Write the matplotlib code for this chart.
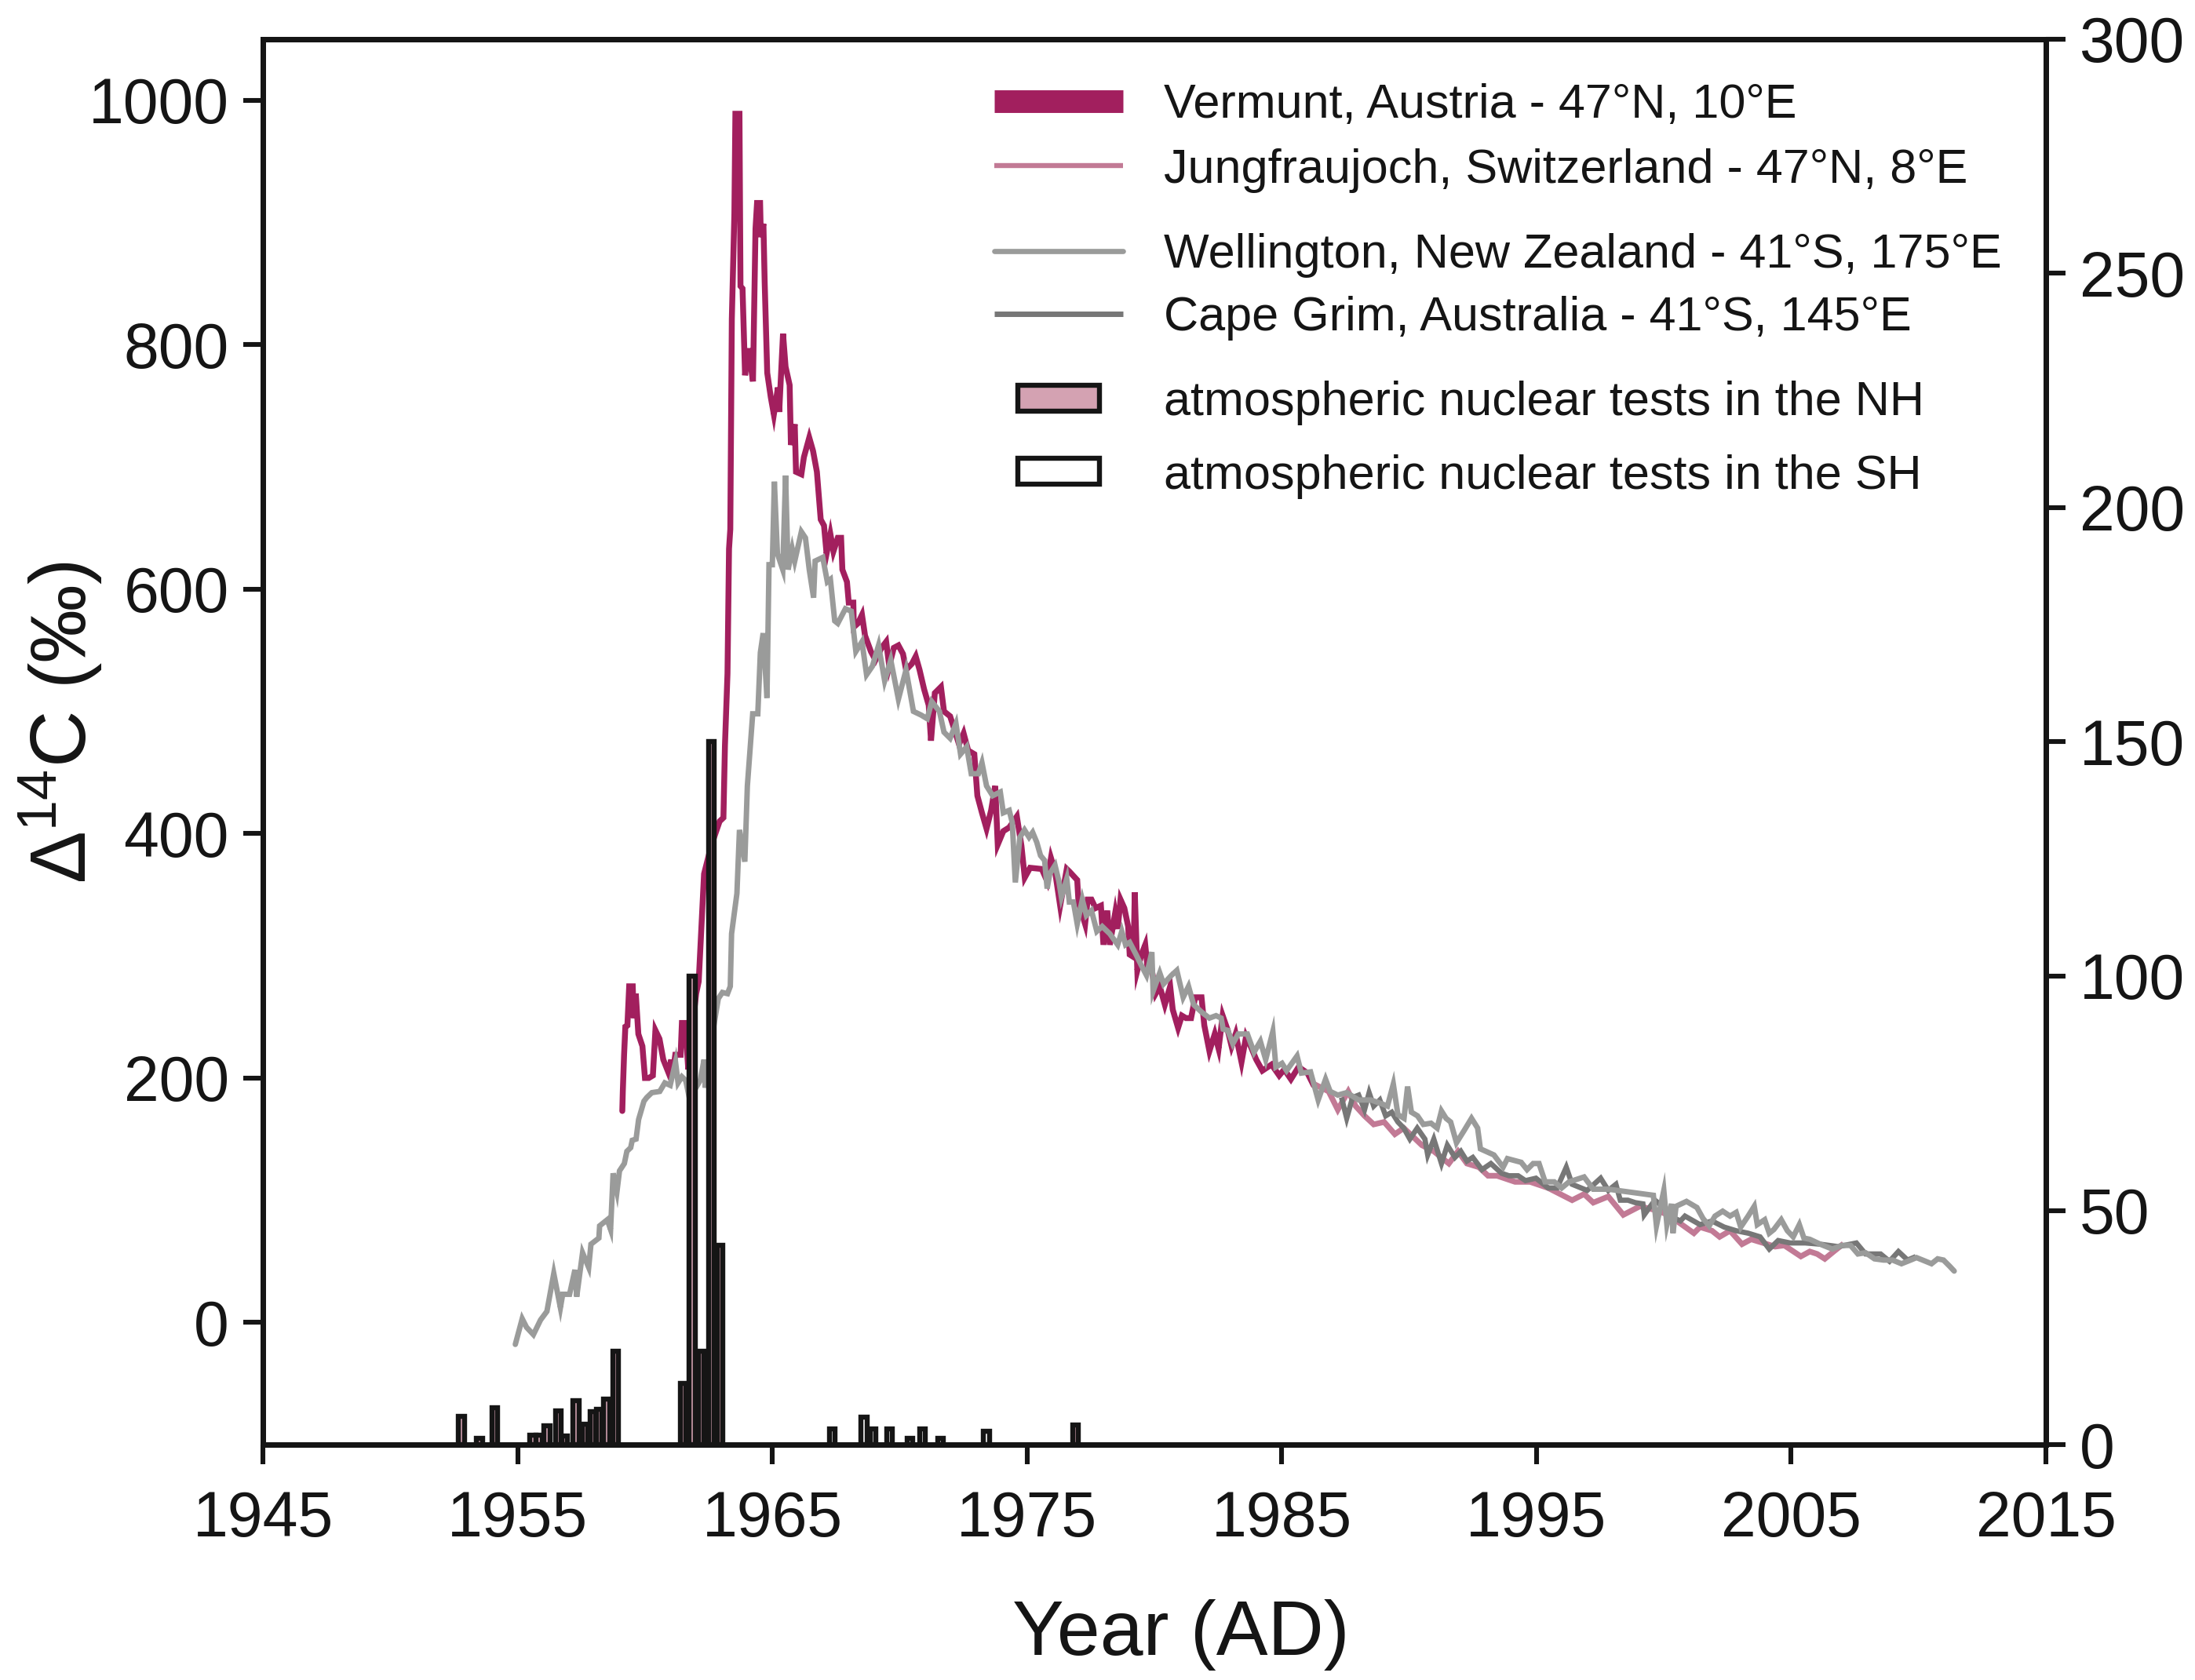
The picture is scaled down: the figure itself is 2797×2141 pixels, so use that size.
import matplotlib
matplotlib.use("Agg")
import matplotlib.pyplot as plt
from matplotlib.lines import Line2D
from matplotlib.patches import Patch

plt.rcParams['font.family'] = ['Liberation Sans', 'DejaVu Sans']
plt.rcParams['mathtext.fontset'] = 'custom'
plt.rcParams['mathtext.rm'] = 'Liberation Sans'
plt.rcParams['mathtext.default'] = 'regular'

# ---------------- data ----------------
vermunt_year = [1959.11, 1959.13, 1959.18, 1959.23, 1959.31, 1959.38, 1959.52, 1959.56, 1959.64, 1959.74,
                1959.90, 1960.00, 1960.15, 1960.31, 1960.41, 1960.57, 1960.72, 1960.93, 1961.03, 1961.08,
                1961.19, 1961.40, 1961.45, 1961.55, 1961.62, 1961.70, 1961.85, 1962.01, 1962.11, 1962.32,
                1962.60, 1962.93, 1963.08, 1963.14, 1963.24, 1963.30, 1963.35, 1963.41, 1963.51, 1963.55,
                1963.71, 1963.75, 1963.83, 1963.93, 1964.06, 1964.24, 1964.34, 1964.40, 1964.52, 1964.55,
                1964.65, 1964.70, 1964.80, 1964.94, 1965.06, 1965.22, 1965.27, 1965.42, 1965.52, 1965.68,
                1965.73, 1965.88, 1965.93, 1966.14, 1966.24, 1966.45, 1966.60, 1966.75, 1966.90, 1967.03,
                1967.13, 1967.28, 1967.40, 1967.57, 1967.70, 1967.75, 1967.93, 1968.00, 1968.18, 1968.20,
                1968.36, 1968.52, 1968.64, 1968.87, 1969.05, 1969.29, 1969.47, 1969.59, 1969.77, 1969.95,
                1970.13, 1970.25, 1970.48, 1970.63, 1970.78, 1970.96, 1971.14, 1971.23, 1971.38, 1971.62,
                1971.74, 1971.98, 1972.15, 1972.33, 1972.51, 1972.69, 1972.93, 1973.05, 1973.23, 1973.41,
                1973.59, 1973.75, 1973.85, 1974.07, 1974.30, 1974.60, 1974.78, 1974.91, 1975.12, 1975.58,
                1975.79, 1975.94, 1976.10, 1976.30, 1976.56, 1976.66, 1976.97, 1977.02, 1977.28, 1977.38,
                1977.53, 1977.69, 1977.90, 1978.00, 1978.15, 1978.25, 1978.46, 1978.56, 1978.67, 1978.82,
                1978.97, 1979.03, 1979.18, 1979.23, 1979.33, 1979.49, 1979.64, 1979.75, 1979.80, 1980.05,
                1980.21, 1980.41, 1980.62, 1980.72, 1980.93, 1981.08, 1981.24, 1981.44, 1981.60, 1981.85,
                1981.96, 1982.16, 1982.37, 1982.52, 1982.68, 1982.88, 1983.03, 1983.19, 1983.42, 1983.60,
                1983.80, 1984.00, 1984.24, 1984.60, 1984.90, 1985.10, 1985.36, 1985.66, 1986.01, 1986.25]
vermunt_d14c = [173, 189, 219, 242, 243, 275, 275, 249, 269, 236,
                226, 200, 200, 202, 239, 232, 215, 204, 215, 202,
                219, 219, 245, 245, 232, 207, 240, 269, 279, 367,
                390, 410, 413, 472, 531, 633, 649, 821, 907, 989,
                989, 848, 846, 775, 797, 770, 895, 916, 916, 888,
                899, 851, 777, 757, 743, 765, 745, 809, 782, 767,
                718, 735, 696, 694, 708, 724, 713, 696, 657, 652,
                629, 645, 631, 642, 642, 616, 606, 589, 589, 569,
                572, 579, 562, 549, 542, 552, 557, 537, 552, 554,
                547, 534, 539, 545, 534, 518, 505, 476, 515, 520,
                500, 496, 485, 473, 482, 468, 465, 431, 417, 404,
                419, 439, 391, 402, 405, 414, 390, 364, 372, 371,
                361, 380, 369, 341, 371, 369, 362, 344, 326, 346,
                346, 339, 341, 309, 337, 309, 335, 322, 346, 339,
                324, 301, 299, 352, 288, 301, 309, 286, 301, 269,
                275, 260, 275, 256, 241, 251, 249, 249, 266, 266,
                243, 222, 236, 224, 251, 239, 226, 236, 213, 234,
                225, 215, 206, 211, 202, 207, 199, 209, 204, 194]

jungfrau_year = [1986.37, 1986.84, 1987.20, 1987.61, 1987.90, 1988.25, 1988.61, 1989.02, 1989.44, 1989.79,
                 1990.15, 1990.50, 1990.97, 1991.56, 1991.92, 1992.27, 1992.74, 1993.10, 1993.45, 1994.16,
                 1994.75, 1995.46, 1996.40, 1996.87, 1997.23, 1997.82, 1998.41, 1999.06, 1999.65, 2000.18,
                 2000.71, 2001.18, 2001.42, 2001.89, 2002.19, 2002.60, 2003.07, 2003.43, 2003.90, 2004.37,
                 2004.73, 2005.38, 2005.73, 2006.02, 2006.32, 2006.67, 2006.97]
jungfrau_d14c = [194, 189, 174, 189, 177, 169, 162, 164, 154, 159,
                 152, 145, 140, 130, 140, 130, 127, 120, 120, 115,
                 115, 110, 100, 105, 98, 103, 88, 95, 92, 88,
                 80, 73, 78, 75, 70, 75, 64, 68, 65, 62,
                 63, 54, 58, 56, 52, 58, 63]

wellington_year = [1954.91, 1955.18, 1955.35, 1955.62, 1955.90, 1956.15, 1956.42, 1956.68, 1956.77, 1957.04,
                   1957.25, 1957.32, 1957.55, 1957.79, 1957.88, 1958.19, 1958.22, 1958.52, 1958.65, 1958.75,
                   1958.90, 1959.00, 1959.19, 1959.29, 1959.44, 1959.50, 1959.65, 1959.75, 1959.96, 1960.07,
                   1960.27, 1960.58, 1960.78, 1960.99, 1961.20, 1961.30, 1961.45, 1961.60, 1961.71, 1962.00,
                   1962.17, 1962.32, 1962.37, 1962.60, 1962.88, 1963.04, 1963.24, 1963.35, 1963.40, 1963.61,
                   1963.71, 1963.92, 1964.02, 1964.23, 1964.43, 1964.53, 1964.64, 1964.79, 1964.87, 1965.00,
                   1965.08, 1965.20, 1965.41, 1965.52, 1965.62, 1965.78, 1965.88, 1966.14, 1966.30, 1966.45,
                   1966.62, 1966.68, 1966.98, 1967.16, 1967.28, 1967.45, 1967.57, 1967.87, 1968.10, 1968.28,
                   1968.52, 1968.70, 1968.93, 1969.17, 1969.41, 1969.65, 1969.95, 1970.25, 1970.54, 1970.84,
                   1971.08, 1971.26, 1971.56, 1971.74, 1971.98, 1972.21, 1972.39, 1972.63, 1972.81, 1973.09,
                   1973.23, 1973.41, 1973.65, 1973.95, 1974.07, 1974.30, 1974.42, 1974.54, 1974.72, 1974.90,
                   1975.08, 1975.22, 1975.38, 1975.53, 1975.69, 1975.79, 1975.89, 1976.10, 1976.25, 1976.35,
                   1976.56, 1976.66, 1976.82, 1976.97, 1977.17, 1977.33, 1977.53, 1977.74, 1977.95, 1978.25,
                   1978.56, 1978.72, 1978.87, 1979.03, 1979.28, 1979.49, 1979.69, 1979.90, 1979.95, 1980.21,
                   1980.36, 1980.67, 1980.88, 1981.13, 1981.34, 1981.54, 1981.85, 1982.16, 1982.42, 1982.62,
                   1982.70, 1982.88, 1983.08, 1983.29, 1983.65, 1983.91, 1984.16, 1984.37, 1984.65, 1984.77,
                   1985.01, 1985.19, 1985.60, 1985.77, 1986.13, 1986.43, 1986.72, 1986.90, 1987.20, 1987.55,
                   1988.02, 1988.50, 1988.91, 1989.15, 1989.38, 1989.56, 1989.80, 1989.94, 1990.09, 1990.33,
                   1990.56, 1990.86, 1991.10, 1991.27, 1991.45, 1991.63, 1991.86, 1992.16, 1992.45, 1992.69,
                   1992.80, 1993.33, 1993.69, 1993.86, 1994.40, 1994.63, 1994.87, 1995.10, 1995.34, 1995.70,
                   1995.99, 1996.28, 1996.87, 1997.23, 1997.82, 1999.59, 1999.71, 2000.00, 2000.12, 2000.30,
                   2000.36, 2000.48, 2000.89, 2001.30, 2001.54, 2001.78, 2002.01, 2002.31, 2002.60, 2002.84,
                   2003.02, 2003.31, 2003.55, 2003.67, 2003.96, 2004.14, 2004.32, 2004.61, 2004.85, 2005.08,
                   2005.32, 2005.50, 2005.73, 2006.14, 2006.62, 2006.97, 2007.33, 2007.62, 2007.92, 2008.27,
                   2008.63, 2008.98, 2009.33, 2009.69, 2009.92, 2010.16, 2010.51, 2010.75, 2010.98, 2011.22,
                   2011.40]
wellington_d14c = [-18, 3, -4, -10, 2, 9, 40, 12, 23, 23,
                   43, 21, 57, 45, 64, 69, 79, 84, 76, 122,
                   107, 124, 130, 140, 143, 149, 150, 166, 181, 184,
                   188, 189, 196, 194, 213, 196, 201, 198, 187, 192,
                   198, 215, 192, 230, 265, 270, 269, 275, 318, 351,
                   403, 377, 439, 498, 498, 548, 564, 511, 620, 620,
                   688, 629, 616, 693, 616, 633, 623, 647, 642, 616,
                   593, 623, 626, 606, 608, 574, 572, 584, 582, 549,
                   557, 530, 537, 554, 525, 542, 510, 534, 500, 497,
                   494, 508, 500, 483, 478, 490, 465, 471, 449, 449,
                   458, 439, 431, 434, 417, 419, 409, 360, 397, 403,
                   397, 401, 393, 382, 378, 355, 367, 374, 361, 348,
                   363, 344, 344, 326, 346, 333, 337, 320, 324, 318,
                   309, 320, 309, 311, 301, 292, 284, 303, 271, 286,
                   277, 284, 288, 266, 275, 260, 254, 249, 251, 249,
                   240, 239, 228, 236, 236, 221, 230, 215, 238, 209,
                   212, 206, 218, 204, 205, 182, 199, 189, 186, 188,
                   182, 182, 179, 177, 195, 170, 167, 193, 172, 169,
                   162, 163, 159, 173, 167, 164, 147, 157, 167, 159,
                   142, 137, 127, 134, 131, 125, 130, 130, 115, 115,
                   110, 115, 119, 109, 109, 104, 79, 108, 80, 97,
                   73, 95, 99, 94, 85, 79, 87, 91, 87, 90,
                   78, 87, 95, 80, 84, 73, 76, 84, 75, 70,
                   80, 69, 68, 64, 60, 63, 63, 56, 57, 52,
                   51, 51, 48, 51, 53, 51, 48, 52, 51, 46,
                   42]

capegrim_year = [1987.37, 1987.55, 1987.78, 1988.02, 1988.25, 1988.43, 1988.61, 1988.85, 1989.08, 1989.32,
                 1989.56, 1989.79, 1990.03, 1990.32, 1990.62, 1990.73, 1990.97, 1991.27, 1991.50, 1991.80,
                 1992.03, 1992.27, 1992.50, 1992.86, 1993.21, 1993.63, 1993.92, 1994.28, 1994.57, 1994.98,
                 1995.46, 1995.81, 1996.17, 1996.40, 1996.99, 1997.52, 1997.82, 1998.12, 1998.29, 1998.59,
                 1998.88, 1999.18, 1999.23, 1999.47, 1999.65, 2000.06, 2000.24, 2000.65, 2000.83, 2001.42,
                 2001.89, 2002.37, 2002.84, 2003.31, 2003.78, 2004.14, 2004.49, 2004.96, 2005.55, 2006.14,
                 2006.85, 2007.56, 2007.92, 2008.51, 2008.86, 2009.21, 2009.57, 2009.80]
capegrim_d14c = [182, 167, 184, 186, 174, 188, 177, 182, 169, 172,
                 164, 159, 150, 159, 150, 137, 150, 130, 145, 135,
                 140, 132, 135, 125, 130, 122, 120, 120, 116, 118,
                 110, 110, 127, 113, 108, 118, 108, 113, 100, 100,
                 98, 97, 88, 95, 100, 93, 87, 83, 87, 80,
                 83, 78, 75, 73, 70, 60, 67, 65, 65, 64,
                 62, 65, 56, 56, 50, 58, 51, 53]

# atmospheric nuclear tests (right axis)
nh_year = [1952.8, 1953.5, 1954.1, 1955.6, 1955.85, 1956.15, 1956.6, 1956.85, 1957.3, 1957.65,
           1957.95, 1958.2, 1958.5, 1958.85, 1961.5, 1961.85, 1962.2, 1962.6, 1962.95, 1976.9]
nh_tests = [6.1, 1.4, 7.9, 2.0, 2.0, 4.1, 7.2, 1.9, 9.3, 4.4,
            7.0, 7.5, 9.7, 20.0, 13.1, 100.0, 20.0, 150.0, 42.5, 4.2]
sh_year = [1967.35, 1968.6, 1968.95, 1969.6, 1970.4, 1970.9, 1971.6, 1973.4]
sh_tests = [3.4, 5.8, 3.4, 3.4, 1.4, 3.4, 1.4, 2.9]

labels = ['Vermunt, Austria - 47°N, 10°E',
          'Jungfraujoch, Switzerland - 47°N, 8°E',
          'Wellington, New Zealand - 41°S, 175°E',
          'Cape Grim, Australia - 41°S, 145°E',
          'atmospheric nuclear tests in the NH',
          'atmospheric nuclear tests in the SH']
x_ticks = [1945, 1955, 1965, 1975, 1985, 1995, 2005, 2015]
left_ticks = [0, 200, 400, 600, 800, 1000]
right_ticks = [0, 50, 100, 150, 200, 250, 300]

# ---------------- style ----------------
C_VER = '#a21f5e'
C_JUN = '#c27a95'
C_WEL = '#9a9b9a'
C_CG = '#777777'
C_NH = '#d4a2b2'
C_K = '#151515'

fig = plt.figure(figsize=(2797 / 200, 2141 / 200), dpi=200)
ax = fig.add_axes([335 / 2797, 1 - 1841 / 2141, (2607 - 335) / 2797, (1841 - 50) / 2141])
ax2 = ax.twinx()

ax.plot(jungfrau_year, jungfrau_d14c, color=C_JUN, lw=2.6, solid_joinstyle='miter')
ax.plot(capegrim_year, capegrim_d14c, color=C_CG, lw=2.4, solid_joinstyle='miter')
ax.plot(vermunt_year, vermunt_d14c, color=C_VER, lw=2.7, solid_capstyle='round', solid_joinstyle='miter')
ax.plot(wellington_year, wellington_d14c, color=C_WEL, lw=2.5, solid_capstyle='round', solid_joinstyle='miter')

ax2.bar(nh_year, nh_tests, width=0.23, facecolor=C_NH, edgecolor=C_K, linewidth=2.3, zorder=3)
ax2.bar(sh_year, sh_tests, width=0.23, facecolor='white', edgecolor=C_K, linewidth=2.3, zorder=3)

ax.set_xlim(1945, 2015)
ax.set_ylim(-100, 1050)
ax2.set_ylim(0, 300)
ax.set_xticks(x_ticks)
ax.set_yticks(left_ticks)
ax2.set_yticks(right_ticks)

for a in (ax, ax2):
    for s in a.spines.values():
        s.set_linewidth(2.5)
        s.set_color(C_K)
ax.tick_params(axis='both', direction='out', length=9, width=2.2, color=C_K, labelsize=29, labelcolor=C_K)
ax.tick_params(axis='x', pad=12)
ax.tick_params(axis='y', pad=6.5)
ax2.tick_params(axis='y', direction='out', length=9, width=2.2, color=C_K, labelsize=29, labelcolor=C_K, pad=6.5)

ax.set_xlabel('Year (AD)', fontsize=35.5, color=C_K)
ax.xaxis.set_label_coords(0.515, -0.110)
ax.set_ylabel('Δ$^{14}$C (‰)', fontsize=36, color=C_K)
ax.yaxis.set_label_coords(-0.089, 0.514)

# ---------------- legend ----------------
fs = 22
line_handles = [
    Line2D([], [], color=C_VER, lw=10.4, solid_capstyle='butt'),
    Line2D([], [], color=C_JUN, lw=2.3, solid_capstyle='butt'),
    Line2D([], [], color=C_WEL, lw=2.4, solid_capstyle='round'),
    Line2D([], [], color=C_CG, lw=2.5, solid_capstyle='butt'),
]
row_y = [135, 217, 326, 406]
for h, lab, yy in zip(line_handles, labels[:4], row_y):
    fig.legend([h], [lab], loc='center left', bbox_to_anchor=(1267 / 2797, 1 - yy / 2141),
               bbox_transform=fig.transFigure, frameon=False, borderpad=0, borderaxespad=0,
               fontsize=fs, handlelength=2.68, handletextpad=0.85, labelcolor=C_K)

patch_handles = [
    Patch(facecolor=C_NH, edgecolor=C_K, linewidth=2.3),
    Patch(facecolor='white', edgecolor=C_K, linewidth=2.3),
]
for h, lab, yy in zip(patch_handles, labels[4:], [514, 607]):
    fig.legend([h], [lab], loc='center left', bbox_to_anchor=(1297 / 2797, 1 - yy / 2141),
               bbox_transform=fig.transFigure, frameon=False, borderpad=0, borderaxespad=0,
               fontsize=fs, handlelength=1.70, handleheight=0.46, handletextpad=1.34, labelcolor=C_K)

fig.savefig('out.png', dpi=200)
